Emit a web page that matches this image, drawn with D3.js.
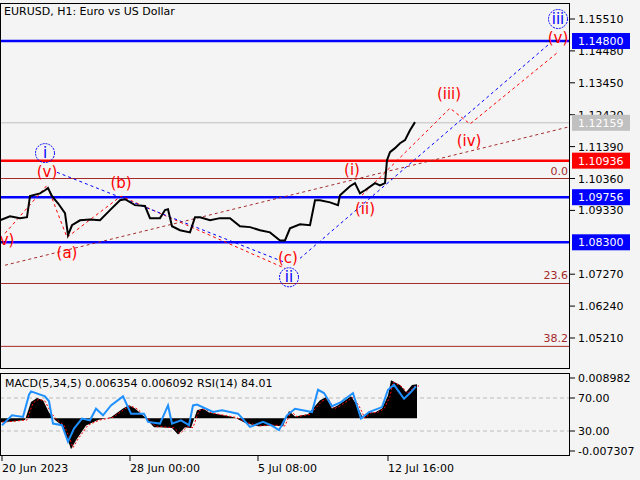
<!DOCTYPE html><html><head><meta charset="utf-8">
<script src="https://cdn.jsdelivr.net/npm/d3@7"></script>
<style>body{margin:0;background:#fff}svg{display:block}text{font-family:"DejaVu Sans",sans-serif}</style></head><body>
<svg id="c" width="640" height="480"></svg>
<script>
// ---- data ----
const priceBar=[0,10,20,27,30,40,45,48,52,58,65,68,72,80,90,100,110,120,125,135,145,150,160,165,168,172,180,190,195,200,210,220,230,240,250,260,270,280,285,290,300,310,315,320,330,338,340,350,355,360,365,375,380,385,387,390,395,400,405,410,415];
const priceClose=[1.0901,1.0914,1.0908,1.0911,1.0979,1.0988,1.0998,1.1005,1.0979,1.0956,1.0924,1.0853,1.0885,1.0901,1.0904,1.0901,1.0934,1.0966,1.0969,1.0950,1.0947,1.0908,1.0908,1.0934,1.0937,1.0882,1.0869,1.0862,1.0911,1.0911,1.0901,1.0908,1.0908,1.0882,1.0879,1.0869,1.0862,1.0836,1.0836,1.0875,1.0888,1.0885,1.0966,1.0966,1.0959,1.0950,1.0982,1.1011,1.1021,1.0988,1.0998,1.1021,1.1014,1.1021,1.1095,1.1121,1.1134,1.1150,1.1160,1.1192,1.1218];
const priceTicks=[1.1551,1.1448,1.1345,1.1242,1.1139,1.1036,1.0933,1.0727,1.0624,1.0521];
const levelBoxes=[[1.1480,"#0000ff","#fff"],[1.12159,"#c0c0c0","#fff"],[1.10936,"#ff0000","#fff"],[1.09756,"#0000ff","#fff"],[1.0830,"#0000ff","#fff"]];
const fiboLevels=[[1.1036,"0.0"],[1.0697,"23.6"],[1.0494,"38.2"]];
const waveLabels=[[45,1.1118,"i","blue",true],[47,1.1056,"(v)","red"],[121,1.1021,"(b)","red"],[67,1.0794,"(a)","red"],[7,1.0836,"v)","red"],[288,1.0778,"(c)","red"],[289,1.0717,"ii","blue",true],[352,1.1063,"(i)","red"],[365,1.0937,"(ii)","red"],[449,1.1309,"(iii)","red"],[469,1.1157,"(iv)","red"],[558,1.1490,"(v)","red"],[558,1.1551,"iii","blue",true]];
const wavePaths=[
 ["red",[[5,1.0859],[47,1.1014],[67,1.0846],[121,1.0979],[285,1.0746]]],
 ["blue",[[57,1.1056],[285,1.0765]]],
 ["blue",[[300,1.0778],[548,1.1467]]],
 ["red",[[362,1.0982],[450,1.1263],[470,1.1212],[558,1.1444]]],
 ["#a52a2a",[[5,1.0756],[568,1.1202]]]];
const macdBar=[0,12,25,31,37,43,49,55,62,68,71,76,86,98,111,123,129,135,145,154,160,172,178,185,191,197,203,209,222,234,246,258,271,283,289,295,308,320,326,332,338,351,357,363,369,375,382,388,391,400,406,412,417];
const macdVal=[-0.9,-0.7,-0.4,3.6,4.5,4.0,1.3,-0.4,-1.6,-4.9,-6.9,-4.9,-1.6,-0.4,0.2,2.2,2.9,2.2,0.2,-2.0,-2.0,-2.2,-3.6,-2.0,-2.2,1.8,2.2,1.3,0.7,0.2,-1.1,-1.8,-1.6,-1.8,1.6,0.4,0.9,4.0,4.7,2.2,2.9,4.9,2.9,0,1.3,1.3,2.2,5.1,8.5,7.4,5.8,7.4,7.6];
const rsiBar=[2,12,23,29,31,45,49,53,62,68,74,82,90,96,103,111,123,131,144,148,160,168,172,181,189,193,197,213,222,230,238,250,263,271,279,287,295,312,318,324,332,341,353,361,369,382,388,394,404,410,416];
const rsiVal=[37,49,47,74,78,72,66,39,37,17,33,45,43,57,49,61,72,51,51,41,39,61,39,43,37,61,62,53,55,53,51,35,41,37,31,49,57,53,80,76,60,65,76,45,53,59,80,86,69,76,84];
const timeTicks=[[2,"20 Jun 2023"],[130,"28 Jun 00:00"],[258,"5 Jul 08:00"],[388,"12 Jul 16:00"]];
const subTicks=[[8.982,"0.008982"],[-7.307,"-0.007307"]];
const rsiTicks=[70,30];

// ---- drawing ----
const svg=d3.select("#c");
svg.append("rect").attr("width",640).attr("height",480).attr("fill","#f4f4f4");
const x=d3.scaleLinear().domain([0,570]).range([0,570]);
const y=d3.scaleLinear().domain([1.0521,1.1551]).range([338,19]);
const ym=d3.scaleLinear().domain([-7.307,8.982]).range([451,378]);
const yr=d3.scaleLinear().domain([30,70]).range([431,398]);
const main=svg.append("g");
main.append("defs").append("clipPath").attr("id","cp").append("rect").attr("x",1).attr("y",4).attr("width",568).attr("height",364);
const g=main.append("g").attr("clip-path","url(#cp)");
fiboLevels.forEach(([p,t])=>{g.append("line").attr("x1",0).attr("x2",570).attr("y1",y(p)).attr("y2",y(p)).attr("stroke","#a52a2a").attr("stroke-width",1);
 svg.append("text").attr("x",568).attr("y",y(p)-4).attr("text-anchor","end").attr("font-size",11).attr("fill","#a52a2a").text(t);});
levelBoxes.forEach(([p,c])=>{g.append("line").attr("x1",0).attr("x2",570).attr("y1",y(p)).attr("y2",y(p)).attr("stroke",c).attr("stroke-width",c=="#c0c0c0"?1:2.5);});
const lg=d3.line().x(d=>x(d[0])).y(d=>y(d[1]));
wavePaths.forEach(([c,pts])=>g.append("path").attr("d",lg(pts)).attr("fill","none").attr("stroke",c).attr("stroke-width",1).attr("stroke-dasharray","3,3"));
g.append("path").attr("d",d3.line().x((d,i)=>x(priceBar[i])).y(d=>y(d))(priceClose)).attr("fill","none").attr("stroke","#000").attr("stroke-width",2);
waveLabels.forEach(([b,p,t,c,circ])=>{
 if(circ) g.append("circle").attr("cx",x(b)).attr("cy",y(p)).attr("r",9.5).attr("fill","none").attr("stroke",c).attr("stroke-dasharray","2,1");
 g.append("text").attr("x",x(b)).attr("y",y(p)+5).attr("text-anchor","middle").attr("font-size",15).attr("fill",c).text(t);});
main.append("rect").attr("x",0.5).attr("y",3.5).attr("width",569).attr("height",365).attr("fill","none").attr("stroke","#000");
svg.append("text").attr("x",4).attr("y",15).attr("font-size",11).text("EURUSD, H1:  Euro vs US Dollar");
priceTicks.forEach(p=>{svg.append("line").attr("x1",570).attr("x2",575).attr("y1",y(p)).attr("y2",y(p)).attr("stroke","#000");
 svg.append("text").attr("x",578).attr("y",y(p)+4).attr("font-size",11).text(p.toFixed(5));});
levelBoxes.forEach(([p,c,tc])=>{svg.append("rect").attr("x",572).attr("y",y(p)-8).attr("width",58).attr("height",16).attr("fill",c);
 svg.append("text").attr("x",578).attr("y",y(p)+4).attr("font-size",11).attr("fill",tc).text(p.toFixed(5));});
const s=svg.append("g");
rsiTicks.forEach(v=>s.append("line").attr("x1",0).attr("x2",570).attr("y1",yr(v)).attr("y2",yr(v)).attr("stroke","#bbb").attr("stroke-dasharray","4,3"));
s.append("path").attr("d",d3.area().x((d,i)=>x(macdBar[i])).y0(ym(0)).y1(d=>ym(d))(macdVal)).attr("fill","#000");
s.append("path").attr("d",d3.line().x((d,i)=>x(macdBar[i])+2).y(d=>ym(d*0.95))(macdVal)).attr("fill","none").attr("stroke","red").attr("stroke-dasharray","2,2");
s.append("path").attr("d",d3.line().x((d,i)=>x(rsiBar[i])).y(d=>yr(d))(rsiVal)).attr("fill","none").attr("stroke","#1e90ff").attr("stroke-width",2);
s.append("rect").attr("x",0.5).attr("y",373.5).attr("width",569).attr("height",82).attr("fill","none").attr("stroke","#000");
s.append("text").attr("x",5).attr("y",387).attr("font-size",11).text("MACD(5,34,5) 0.006354 0.006092 RSI(14) 84.01");
subTicks.forEach(([v,t])=>{s.append("line").attr("x1",570).attr("x2",575).attr("y1",ym(v)).attr("y2",ym(v)).attr("stroke","#000");s.append("text").attr("x",578).attr("y",ym(v)+4).attr("font-size",11).text(t);});
rsiTicks.forEach(v=>{s.append("line").attr("x1",570).attr("x2",575).attr("y1",yr(v)).attr("y2",yr(v)).attr("stroke","#000");s.append("text").attr("x",578).attr("y",yr(v)+4).attr("font-size",11).text(v.toFixed(2));});
timeTicks.forEach(([b,t])=>{s.append("line").attr("x1",x(b)).attr("x2",x(b)).attr("y1",456).attr("y2",461).attr("stroke","#000");s.append("text").attr("x",x(b)).attr("y",472).attr("font-size",11).text(t);});
</script></body></html>
